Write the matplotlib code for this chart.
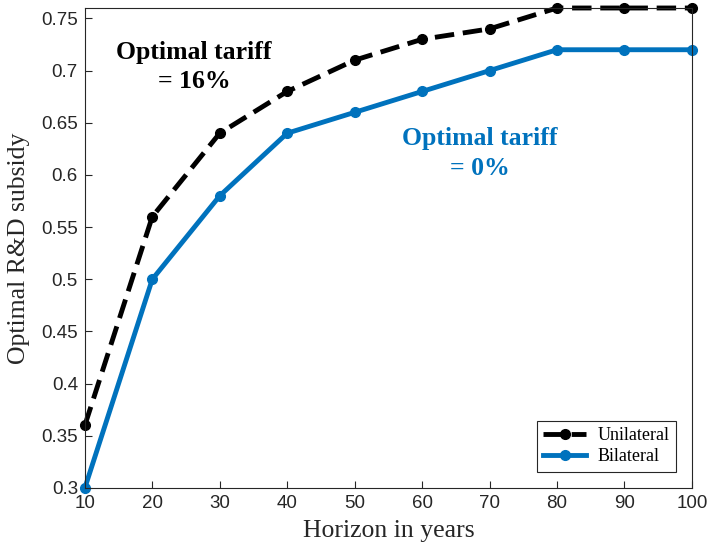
import numpy as np
from matplotlib import pyplot as plt

# horizon (years) and optimal R&D subsidy
horizon = [10, 20, 30, 40, 50, 60, 70, 80, 90, 100]
unilateral = [0.36, 0.56, 0.64, 0.68, 0.71, 0.73, 0.74, 0.76, 0.76, 0.76]
bilateral = [0.30, 0.50, 0.58, 0.64, 0.66, 0.68, 0.70, 0.72, 0.72, 0.72]

blue = '#0072BD'
gray = '#262626'

fig = plt.figure(figsize=(7.07, 5.52), dpi=100)
ax = fig.add_axes([0.120, 0.116, 0.8586, 0.8695])

ax.plot(horizon, unilateral, '--', color='black', lw=3.5, dashes=(4, 1.8),
        marker='o', ms=7, label='Unilateral', clip_on=False)
ax.plot(horizon, bilateral, '-', color=blue, lw=3.5,
        marker='o', ms=7, label='Bilateral', clip_on=False)

ax.set_xlim(10, 100)
ax.set_ylim(0.3, 0.76)
ax.set_xticks(np.arange(10, 101, 10))
ax.set_yticks(np.arange(0.3, 0.751, 0.05))
ax.set_yticklabels(['0.3', '0.35', '0.4', '0.45', '0.5', '0.55', '0.6', '0.65', '0.7', '0.75'])
ax.tick_params(direction='in', length=5, width=0.8, colors=gray, labelsize=13.5,
               top=False, right=False, pad=5)
for lab in ax.get_xticklabels() + ax.get_yticklabels():
    lab.set_family('Liberation Sans')
for s in ax.spines.values():
    s.set_color(gray)
    s.set_linewidth(0.8)

ax.set_xlabel('Horizon in years', family='Liberation Serif', fontsize=18.5, color=gray,
              labelpad=6)
ax.set_ylabel('Optimal R&D subsidy', family='Liberation Serif', fontsize=18.5, color=gray,
              labelpad=8)

ax.text(26.2, 0.7035, 'Optimal tariff\n= 16%', ha='center', va='center',
        family='Liberation Serif', weight='bold', fontsize=18.5, color='black',
        linespacing=1.35)
ax.text(68.6, 0.6205, 'Optimal tariff\n= 0%', ha='center', va='center',
        family='Liberation Serif', weight='bold', fontsize=18.5, color=blue,
        linespacing=1.35)

leg = ax.legend(loc='lower right', prop={'family': 'Liberation Serif', 'size': 13},
                fancybox=False, edgecolor=gray, framealpha=1, handlelength=2.4,
                borderaxespad=0.9, borderpad=0.35, labelspacing=0.25, handletextpad=0.6)
leg.get_frame().set_linewidth(0.8)

fig.savefig('out.png', dpi=100)
